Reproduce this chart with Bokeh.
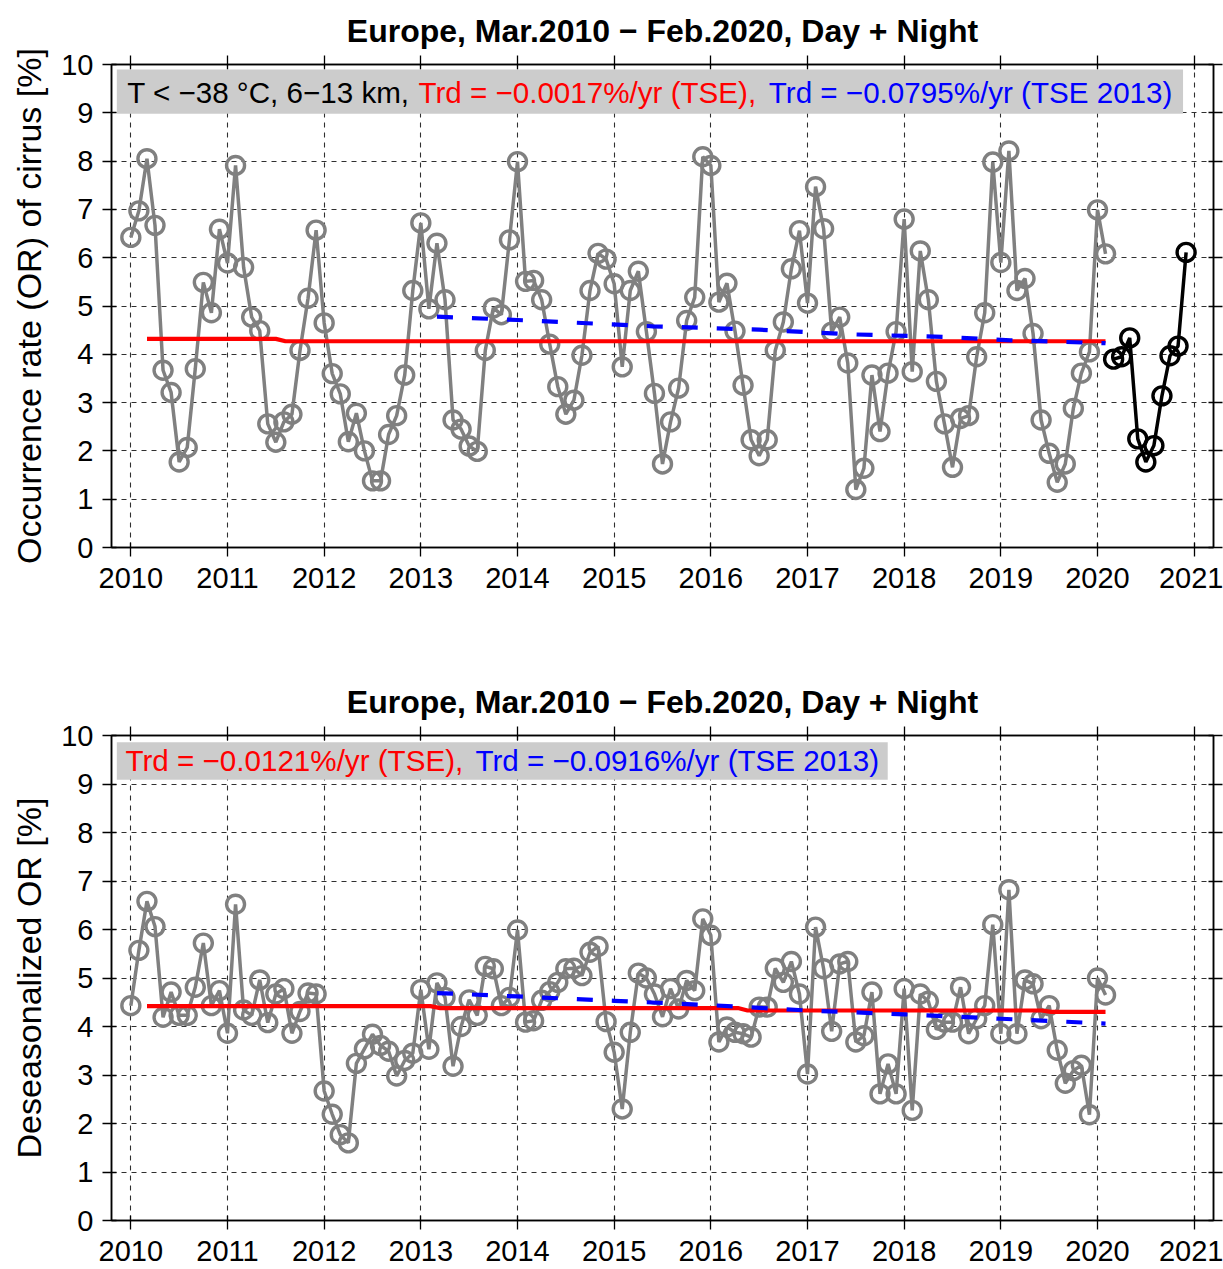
from bokeh.plotting import figure
from bokeh.layouts import column
from bokeh.models import ColumnDataSource, FixedTicker, LinearAxis, Range1d, BoxAnnotation, Label
from bokeh.embed import file_html
from bokeh.resources import INLINE

# ---------------------------------------------------------------- data
# Monthly cirrus occurrence rate over Europe [%], Jan 2010 - Feb 2020
or_monthly = [
    6.42, 6.97, 8.05, 6.67, 3.67, 3.21, 1.77, 2.07, 3.70, 5.49, 4.86, 6.59,   # 2010
    5.89, 7.91, 5.80, 4.77, 4.49, 2.56, 2.18, 2.60, 2.76, 4.08, 5.16, 6.57,   # 2011
    4.65, 3.60, 3.18, 2.19, 2.78, 2.00, 1.38, 1.38, 2.34, 2.73, 3.57, 5.32,   # 2012
    6.72, 4.94, 6.30, 5.13, 2.64, 2.45, 2.10, 1.99, 4.08, 4.96, 4.82, 6.37,   # 2013
    7.99, 5.51, 5.53, 5.13, 4.21, 3.33, 2.76, 3.05, 3.98, 5.32, 6.09, 5.97,   # 2014
    5.46, 3.74, 5.32, 5.72, 4.47, 3.19, 1.73, 2.60, 3.30, 4.70, 5.18, 8.09,   # 2015
    7.91, 5.08, 5.47, 4.48, 3.36, 2.23, 1.90, 2.23, 4.08, 4.67, 5.77, 6.56,   # 2016
    5.06, 7.47, 6.60, 4.46, 4.77, 3.82, 1.20, 1.64, 3.57, 2.40, 3.61, 4.47,   # 2017
    6.80, 3.64, 6.14, 5.13, 3.44, 2.56, 1.66, 2.67, 2.73, 3.95, 4.86, 7.98,   # 2018
    5.90, 8.21, 5.32, 5.57, 4.43, 2.64, 1.95, 1.35, 1.73, 2.88, 3.61, 4.05,   # 2019
    6.99, 6.08,                                                               # 2020
]
# Mar 2020 - Dec 2020
or_2020 = [3.90, 3.95, 4.34, 2.25, 1.77, 2.11, 3.14, 3.97, 4.17, 6.11]

# Deseasonalized occurrence rate [%], Jan 2010 - Feb 2020
or_deseason = [
    4.43, 5.57, 6.58, 6.06, 4.19, 4.71, 4.23, 4.23, 4.81, 5.72, 4.43, 4.74,   # 2010
    3.86, 6.52, 4.34, 4.23, 4.96, 4.08, 4.67, 4.78, 3.86, 4.31, 4.69, 4.67,   # 2011
    2.67, 2.19, 1.77, 1.60, 3.24, 3.54, 3.84, 3.61, 3.49, 2.98, 3.30, 3.45,   # 2012
    4.76, 3.53, 4.90, 4.60, 3.18, 4.00, 4.55, 4.23, 5.24, 5.19, 4.43, 4.60,   # 2013
    5.99, 4.09, 4.12, 4.54, 4.72, 4.91, 5.19, 5.20, 5.05, 5.53, 5.65, 4.10,   # 2014
    3.47, 2.30, 3.88, 5.10, 5.00, 4.67, 4.20, 4.78, 4.36, 4.95, 4.74, 6.22,   # 2015
    5.88, 3.68, 3.99, 3.88, 3.85, 3.78, 4.40, 4.40, 5.20, 4.91, 5.34, 4.67,   # 2016
    3.02, 6.05, 5.19, 3.90, 5.29, 5.34, 3.68, 3.81, 4.71, 2.61, 3.23, 2.61,   # 2017
    4.78, 2.27, 4.67, 4.52, 3.94, 4.09, 4.09, 4.81, 3.85, 4.16, 4.43, 6.10,   # 2018
    3.85, 6.82, 3.85, 4.96, 4.88, 4.16, 4.43, 3.51, 2.83, 3.09, 3.20, 2.18,   # 2019
    5.00, 4.65,                                                               # 2020
]

# Trend curves (knots: decimal year, value)
tse_top_x = [2010.167, 2011.50, 2011.60, 2020.083]
tse_top_y = [4.32, 4.32, 4.27, 4.27]
tse13_top_x = [2013.167, 2014.0, 2015.4, 2016.5, 2017.5, 2018.4, 2019.1, 2020.083]
tse13_top_y = [4.78, 4.71, 4.58, 4.51, 4.41, 4.36, 4.29, 4.23]

tse_bot_x = [2010.167, 2013.10, 2013.20, 2016.28, 2016.38, 2019.42, 2019.52, 2020.083]
tse_bot_y = [4.42, 4.42, 4.38, 4.38, 4.33, 4.33, 4.30, 4.30]
tse13_bot_x = [2013.167, 2014.0, 2015.0, 2016.0, 2017.0, 2018.0, 2019.0, 2020.083]
tse13_bot_y = [4.69, 4.62, 4.53, 4.44, 4.33, 4.25, 4.16, 4.06]

year_ticks = list(range(2010, 2022))
or_ticks = list(range(0, 11))

TITLE = "Europe, Mar.2010 \u2212 Feb.2020, Day + Night"
FONT = "Liberation Sans"


def month_positions(first_year_frac, n):
    return [first_year_frac + i / 12.0 for i in range(n)]


def style_axis(ax, show_labels=True):
    ax.axis_line_color = "black"
    ax.axis_line_width = 1.5
    ax.major_tick_line_color = "black"
    ax.major_tick_line_width = 1.3
    ax.major_tick_in = 5
    ax.major_tick_out = 9
    ax.minor_tick_line_color = None
    ax.major_label_text_font = FONT
    if show_labels:
        ax.major_label_text_color = "black"
        ax.major_label_text_font_size = "29px"
    else:
        # tick marks only: no tick labels on the mirrored axes
        ax.major_label_text_color = None
        ax.major_label_text_font_size = "0px"
        ax.major_label_standoff = 0


def make_panel(ylabel, top_border, frame_h, bottom_border):
    p = figure(
        width=1223, height=top_border + frame_h + bottom_border,
        frame_width=1102, frame_height=frame_h,
        x_range=Range1d(2009.8, 2021.2), y_range=Range1d(0, 10),
        output_backend="svg", toolbar_location=None,
        min_border_left=111, min_border_right=10,
        min_border_top=top_border, min_border_bottom=bottom_border,
        title=TITLE,
    )
    p.title.text_font = FONT
    p.title.text_font_size = "32px"
    p.title.text_font_style = "bold"
    p.title.align = "center"
    p.title.text_color = "black"
    p.title.standoff = 13

    p.background_fill_color = "white"
    p.border_fill_color = "white"
    p.outline_line_color = "black"
    p.outline_line_width = 1.5
    p.outline_line_alpha = 1.0

    p.xaxis.ticker = FixedTicker(ticks=year_ticks)
    p.yaxis.ticker = FixedTicker(ticks=or_ticks)
    style_axis(p.xaxis[0])
    style_axis(p.yaxis[0])
    p.xaxis.major_label_standoff = 11
    p.yaxis.major_label_standoff = 9

    p.yaxis.axis_label = ylabel
    p.yaxis.axis_label_text_font = FONT
    p.yaxis.axis_label_text_font_size = "34px"
    p.yaxis.axis_label_text_font_style = "normal"
    p.yaxis.axis_label_text_color = "black"
    p.yaxis.axis_label_standoff = 10

    top_ax = LinearAxis(ticker=FixedTicker(ticks=year_ticks))
    right_ax = LinearAxis(ticker=FixedTicker(ticks=or_ticks))
    style_axis(top_ax, show_labels=False)
    style_axis(right_ax, show_labels=False)
    p.add_layout(top_ax, "above")
    p.add_layout(right_ax, "right")

    for g, ticks in ((p.xgrid[0], year_ticks), (p.ygrid[0], or_ticks)):
        g.ticker = FixedTicker(ticks=ticks)
        g.grid_line_color = "#303030"
        g.grid_line_width = 1.1
        g.grid_line_dash = "5 5"
    return p


def draw_series(p, x, y, color):
    src = ColumnDataSource(dict(x=x, y=y))
    p.line("x", "y", source=src, line_color=color, line_width=3.5)
    p.scatter("x", "y", source=src, marker="circle", size=18,
              fill_color=None, line_color=color, line_width=3.4)


def draw_trends(p, tx, ty, bx, by):
    p.line(tx, ty, line_color="#ff0000", line_width=4.2)
    p.line(bx, by, line_color="#0000ff", line_width=4.2, line_dash="16 19")


def add_note(p, box, pieces, y):
    left, right, bottom, top = box
    p.add_layout(BoxAnnotation(left=left, right=right, bottom=bottom, top=top,
                               fill_color="#cccccc", fill_alpha=1.0, line_color=None))
    for x, text, color in pieces:
        p.add_layout(Label(x=x, y=y, text=text, text_color=color, text_font=FONT,
                           text_font_size="29.6px", text_baseline="middle", text_align="left"))


# ---------------------------------------------------------------- top panel
p1 = make_panel("Occurrence rate (OR) of cirrus [%]", 64, 483, 87)
draw_series(p1, month_positions(2010.0, len(or_monthly)), or_monthly, "#808080")
draw_series(p1, month_positions(2020.0 + 2 / 12.0, len(or_2020)), or_2020, "black")
draw_trends(p1, tse_top_x, tse_top_y, tse13_top_x, tse13_top_y)
add_note(p1, (2009.855, 2020.885, 8.98, 9.896), [
    (2009.962, "T < \u221238 \u00b0C, 6\u221213 km,", "black"),
    (2012.975, "Trd = \u22120.0017%/yr (TSE),", "#ff0000"),
    (2016.600, "Trd = \u22120.0795%/yr (TSE 2013)", "#0000ff"),
], 9.42)

# ---------------------------------------------------------------- bottom panel
p2 = make_panel("Deseasonalized OR [%]", 101, 485, 49)
draw_series(p2, month_positions(2010.0, len(or_deseason)), or_deseason, "#808080")
draw_trends(p2, tse_bot_x, tse_bot_y, tse13_bot_x, tse13_bot_y)
add_note(p2, (2009.855, 2017.830, 9.087, 9.862), [
    (2009.945, "Trd = \u22120.0121%/yr (TSE),", "#ff0000"),
    (2013.565, "Trd = \u22120.0916%/yr (TSE 2013)", "#0000ff"),
], 9.485)

layout = column(p1, p2, spacing=0)
open("out.html", "w").write(file_html(layout, INLINE))
